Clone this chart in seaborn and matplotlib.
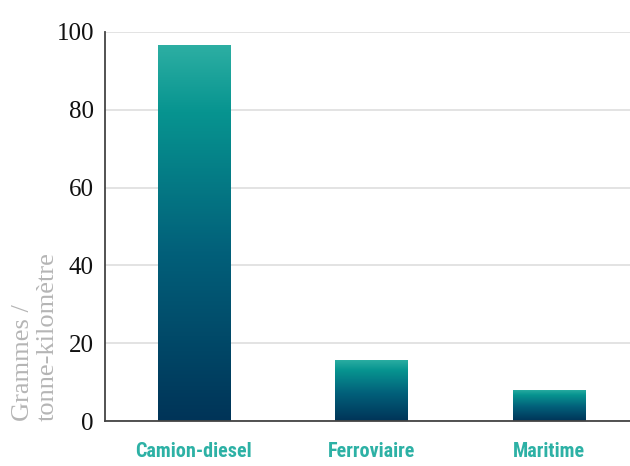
import numpy as np
import pandas as pd
import matplotlib
matplotlib.use("Agg")
import matplotlib.pyplot as plt
from matplotlib import font_manager
from matplotlib.colors import LinearSegmentedColormap
import seaborn as sns

# Émissions de CO2 par mode de transport de marchandises
modes = ["Camion-diesel", "Ferroviaire", "Maritime"]
emissions = [96.7, 15.8, 8.0]
yticks = [0, 20, 40, 60, 80, 100]
ylabel = "Grammes /\ntonne-kilomètre"

sns.set_theme(style="white")

available = {f.name for f in font_manager.fontManager.ttflist}
def pick(*names):
    for n in names:
        if n in available:
            return n
    return "DejaVu Sans"

serif = pick("Liberation Serif", "DejaVu Serif")
narrow = pick("Liberation Sans Narrow", "Roboto Condensed", "Roboto", "DejaVu Sans")

fig = plt.figure(figsize=(6.30, 4.66), dpi=100)
ax = fig.add_axes([105 / 630, 1 - 421 / 466, 532.5 / 630, 389 / 466])

df = pd.DataFrame({"mode": modes, "emissions": emissions})
sns.barplot(data=df, x="mode", y="emissions", ax=ax, width=0.406,
            color="#006a80", saturation=1, zorder=2)

ax.set_ylim(0, 100)
ax.set_xlim(-0.5, 2.5)
ax.set_yticks(yticks)
ax.set_yticklabels([str(t) for t in yticks], fontfamily=serif, fontsize=18,
                   color="#111111")
for lbl in ax.get_yticklabels():
    lbl.set_verticalalignment("center_baseline")
ax.set_xlabel("")
ax.set_ylabel("")
ax.tick_params(axis="y", length=0, pad=8)
ax.tick_params(axis="x", length=0, pad=15)
for lbl in ax.get_xticklabels():
    lbl.set_fontfamily(narrow)
    lbl.set_fontweight("bold")
    lbl.set_fontsize(14.5)
    lbl.set_color("#2db1a5")

ax.yaxis.grid(True, color="#dedede", linewidth=1.2, zorder=0)
ax.xaxis.grid(False)
ax.set_axisbelow(True)
for side in ["top", "right"]:
    ax.spines[side].set_visible(False)
for side in ["left", "bottom"]:
    ax.spines[side].set_color("#444444")
    ax.spines[side].set_linewidth(1.3)
ax.spines["bottom"].set_zorder(5)

# Dégradé vertical dans chaque barre : sarcelle en haut, bleu nuit en bas
cmap = LinearSegmentedColormap.from_list(
    "bar_grad", [(0.0, "#003458"), (0.45, "#02607a"), (0.82, "#079490"), (1.0, "#2dafa3")])
grad = np.linspace(0, 1, 256).reshape(-1, 1)
for patch in ax.patches:
    x0, y0 = patch.get_x(), patch.get_y()
    w, h = patch.get_width(), patch.get_height()
    im = ax.imshow(grad, cmap=cmap, origin="lower", aspect="auto",
                   extent=[x0, x0 + w, y0, y0 + h], zorder=3)
    im.set_clip_path(patch)
    patch.set_facecolor("none")
    patch.set_edgecolor("none")
ax.set_xlim(-0.5, 2.5)
ax.set_ylim(0, 100)

fig.text(35 / 630, 1 - 421 / 466, ylabel, rotation=90, ha="center", va="bottom",
         multialignment="left", fontfamily=serif, fontsize=19, color="#b5b5b5",
         linespacing=1.15)

fig.savefig("out.png", dpi=100)
